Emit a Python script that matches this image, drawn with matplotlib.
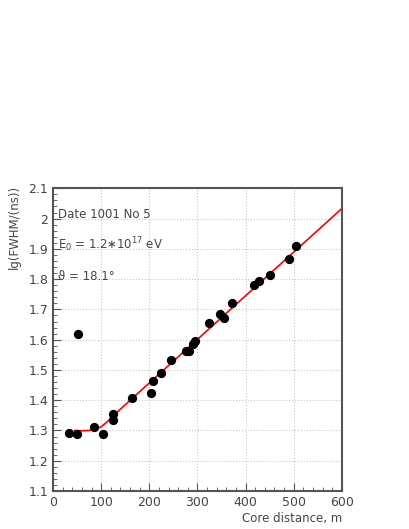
import matplotlib.pyplot as plt
from matplotlib.ticker import MultipleLocator

## data

dist = [34, 49, 51, 86, 103, 125, 125, 165, 204, 208, 224, 246, 276, 283,
        290, 296, 324, 348, 355, 371, 418, 427, 451, 491, 505]
lg_fwhm = [1.291, 1.290, 1.619, 1.313, 1.290, 1.354, 1.333, 1.407, 1.424,
           1.463, 1.491, 1.533, 1.564, 1.564, 1.586, 1.596, 1.654, 1.684,
           1.673, 1.722, 1.780, 1.794, 1.814, 1.866, 1.911]

fit_x = [45, 60, 75, 90, 100, 110, 130, 600]
fit_y = [1.300, 1.299, 1.300, 1.305, 1.312, 1.325, 1.356, 2.033]

## plotting

fig = plt.figure(figsize=(4.09, 5.29), dpi=100)
ax = fig.add_axes([0.1296, 0.0718, 0.7060, 0.5722])

ax.plot(fit_x, fit_y, color='red', linewidth=1.2, zorder=2)
ax.scatter(dist, lg_fwhm, s=32, color='black', zorder=3)

ax.set_xlim(0, 600)
ax.set_ylim(1.1, 2.1)
ax.xaxis.set_major_locator(MultipleLocator(100))
ax.xaxis.set_minor_locator(MultipleLocator(20))
ax.yaxis.set_major_locator(MultipleLocator(0.1))
ax.yaxis.set_minor_locator(MultipleLocator(0.02))
ax.yaxis.set_major_formatter(plt.FuncFormatter(lambda v, p: ('%.1f' % v).rstrip('0').rstrip('.')))

ax.grid(True, which='major', linestyle=':', color='#c8c8c8', linewidth=0.8)
for s in ax.spines.values():
    s.set_color('#555555')
    s.set_linewidth(1.5)
ax.tick_params(which='both', direction='in', color='#555555', labelcolor='#444444', labelsize=9)
ax.tick_params(which='major', length=6)
ax.tick_params(which='minor', length=3)
ax.tick_params(top=False, right=False, which='both')

txt = dict(fontsize=8.5, color='#444444', va='center')
ax.text(11, 2.012, 'Date 1001 No 5', **txt)
ax.text(11, 1.913, r'E$_0$ = 1.2$\ast$10$^{17}$ eV', **txt)
ax.text(11, 1.810, '\u03d1 = 18.1\u00b0', **txt)

ax.set_ylabel('lg(FWHM/(ns))', fontsize=8.5, color='#444444', loc='top')
ax.yaxis.set_label_coords(-0.11, 1.01)
ax.set_xlabel('Core distance, m', fontsize=8.5, color='#444444', loc='right', labelpad=2)

plt.savefig('out.png', dpi=100)
